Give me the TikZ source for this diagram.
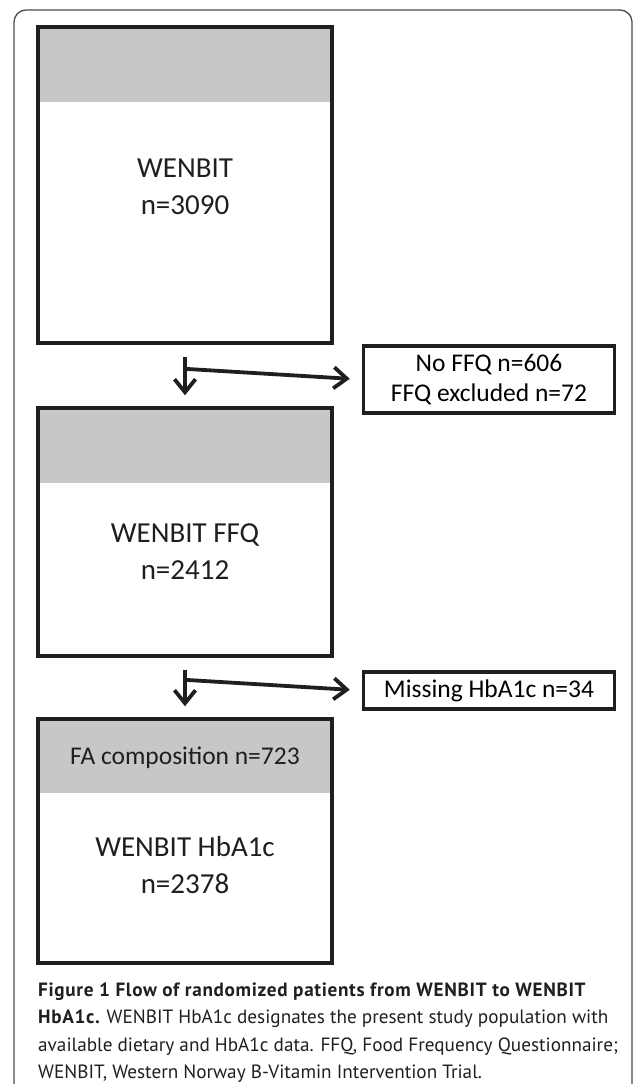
\documentclass[tikz,border=0pt]{standalone}
\usepackage{fontspec}
\setmainfont{Carlito}
\newfontfamily\capfont{PT Sans}
\newfontfamily\capboldfont{PT Sans Bold}[LetterSpace=3.5]
\usetikzlibrary{arrows.meta,positioning}
\tikzset{>={Straight Barb[length=13pt,width=21pt]}}
\colorlet{penColor}{black!88}
\definecolor{bandColor}{RGB}{198,199,201}
\tikzset{
	mainbox/.style={draw=penColor,line width=3.5pt,minimum width=294pt,inner sep=0pt},
	sidebox/.style={draw=penColor,line width=3.5pt,minimum width=251pt,inner sep=0pt,align=center,font=\fontsize{25.5}{30}\selectfont},
	band/.style={path picture={\fill[bandColor] (path picture bounding box.north west) rectangle ([yshift=-#1]path picture bounding box.north east);}},
	flow/.style={->,line width=3.8pt,penColor},
	bigtext/.style={align=center,text=penColor,font=\fontsize{29}{37}\selectfont},
	captext/.style={anchor=base west,inner sep=0pt,text=penColor,font=\capfont\fontsize{19.2}{27}\selectfont}
}

\begin{document}
\begin{tikzpicture}[x=1pt,y=-1pt]
				\useasboundingbox (0,0) rectangle (633,1084);
				\draw[line width=1.3pt,black!70,rounded corners=12pt] (14,1120)--(14,10)--(632,10)--(632,1120);
				% boxes
				\node[mainbox,band=75pt,minimum height=316pt] (wenbit) at (185,185) {};
				\node[mainbox,band=75pt,minimum height=248pt] (ffq) at (185,532) {};
				\node[mainbox,band=74pt,minimum height=244pt] (hba) at (185,841) {};
				\node[sidebox,minimum height=67pt] (noffq) at (489,379.5) {No FFQ n=606\\FFQ excluded n=72};
				\node[sidebox,minimum height=37pt] (missing) at (489,690.5) {Missing HbA1c n=34};
				\node[bigtext] (wenbitTxt) at (185,187) {WENBIT\\n=3090};
				\node[bigtext] (ffqTxt) at (185,552) {WENBIT FFQ\\n=2412};
				\node[bigtext] (hbaTxt) at (185,865) {WENBIT HbA1c\\n=2378};
				\node[text=penColor,font=\fontsize{25.5}{30}\selectfont] (faTxt) at (185,758) {FA composition n=723};
				% arrows
				\coordinate (split1) at ([xshift=-1.5pt,yshift=-24pt]wenbit.south);
				\coordinate (split2) at ([xshift=-1.5pt,yshift=-22pt]ffq.south);
				\draw[flow] ([yshift=-12pt]wenbit.south)--([yshift=11pt]ffq.north);
				\draw[flow,shorten >=12pt] (split1)--(noffq.west);
				\draw[flow] ([yshift=-12pt]ffq.south)--([yshift=11pt]hba.north);
				\draw[flow,shorten >=12pt] (split2)--(missing.west);
				% caption
				\node[captext] (cap1) at (38,996) {\capboldfont Figure 1 Flow of randomized patients from WENBIT to WENBIT};
				\node[captext] (cap2) at (38,1023.5) {{\capboldfont HbA1c.} WENBIT HbA1c designates the present study population with};
				\node[captext] (cap3) at (38,1051) {available dietary and HbA1c data. FFQ, Food Frequency Questionnaire;};
				\node[captext] (cap4) at (38,1078) {WENBIT, Western Norway B-Vitamin Intervention Trial.};
				\end{tikzpicture}
\end{document}
